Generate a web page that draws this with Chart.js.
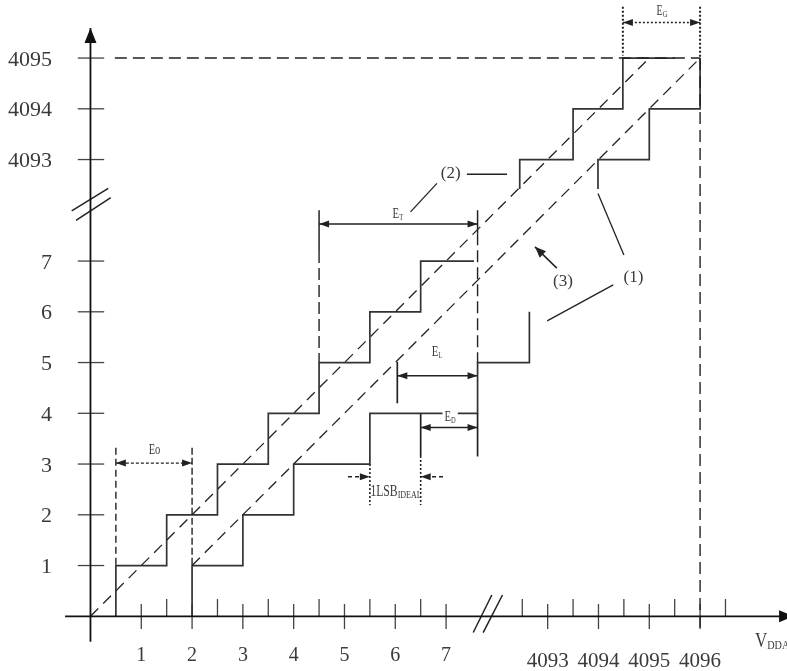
<!DOCTYPE html>
<html>
<head>
<meta charset="utf-8">
<script src="https://cdn.jsdelivr.net/npm/chart.js@4.4.1/dist/chart.umd.min.js"></script>
<style>
html, body { margin: 0; padding: 0; background: #fff; }
#wrap { width: 787px; height: 671px; }
</style>
</head>
<body>
<div id="wrap"><canvas id="adc" width="787" height="671"></canvas></div>
<script>
// plot units: 1 LSB across, 1 code up. the axis breaks fold 8..4092 into one gap,
// so 4093 sits at 9 and 4096 at 12 on both axes
const xTickPos = [1, 2, 3, 4, 5, 6, 7, 9, 10, 11, 12];
const xTickLabels = ['1', '2', '3', '4', '5', '6', '7', '4093', '4094', '4095', '4096'];
const xHalfTicks = [1.5, 2.5, 3.5, 4.5, 5.5, 6.5, 8.5, 9.5, 10.5, 11.5, 12.5];
const yTickPos = [1, 2, 3, 4, 5, 6, 7, 9, 10, 11];
const yTickLabels = ['1', '2', '3', '4', '5', '6', '7', '4093', '4094', '4095'];

// (2) curve with offset, low codes and top codes
const upperLow = [[0.5,0],[0.5,1],[1.5,1],[1.5,2],[2.5,2],[2.5,3],[3.5,3],[3.5,4],[4.5,4],[4.5,5],[5.5,5],[5.5,6],[6.5,6],[6.5,7],[7.55,7]];
const upperHigh = [[8.45,8.42],[8.45,9],[9.5,9],[9.5,10],[10.48,10],[10.48,11],[11.5,11]];
// (1) actual curve
const lowerLow = [[2,0],[2,1],[3,1],[3,2],[4,2],[4,3],[5.5,3],[5.5,4],[7.62,4],[7.62,5],[8.64,5],[8.64,6]];
const lowerHigh = [[9.99,8.42],[9.99,9],[11,9],[11,10],[12,10],[12,11]];
// dashed straight lines through the steps
const diagUpper = [[0,0],[11,11]];
const diagLower = [[2,1],[12,11]];
const fullScale = [[0.48,11],[12,11]];
const fullScaleV = [[12,11],[12,-0.22]];

const INK = '#222';
const TEXT = '#3a3a3a';
const FONT = '"Liberation Serif", "Times New Roman", serif';

// canvas is 787x671, origin at (90.5, 616.3), 50.8 px per LSB, 50.75 px per code
const X_MIN = -1.781, X_MAX = 13.711;
const Y_MIN = -1.078, Y_MAX = 12.144;

function line(pts, opts) {
    return Object.assign({
        data: pts.map(p => ({ x: p[0], y: p[1] })),
        showLine: true,
        pointRadius: 0,
        borderColor: INK,
        borderWidth: 1.6,
        fill: false,
        tension: 0
    }, opts || {});
}
const DASH = { borderDash: [12, 6], borderWidth: 1.4 };
const DOT = { borderDash: [2, 2], borderWidth: 1.6 };

let datasets = [
    // axes
    line([[0,-0.5],[0,11.59]], { borderWidth: 1.8, borderColor: '#111', head: 'end', headLen: 15, headW: 6 }),
    line([[-0.5,0],[13.85,0]], { borderWidth: 1.8, borderColor: '#111', head: 'end', headLen: 15, headW: 6 }),
    line([[-0.37,7.99],[0.35,8.43]], { borderWidth: 1.5 }),
    line([[-0.285,7.8],[0.4,8.25]], { borderWidth: 1.5 }),
    line([[7.535,-0.32],[7.9,0.42]], { borderWidth: 1.5 }),
    line([[7.73,-0.32],[8.11,0.42]], { borderWidth: 1.5 }),

    // staircases and dashed lines
    line(diagUpper, { borderDash: [11, 7], borderWidth: 1.3 }),
    line(diagLower, { borderDash: [11, 7], borderWidth: 1.3 }),
    line(fullScale, DASH),
    line(fullScaleV, DASH),
    line(upperLow, { borderWidth: 1.7, borderColor: '#333' }),
    line(upperHigh, { borderWidth: 1.7, borderColor: '#333' }),
    line(lowerLow, { borderWidth: 1.7, borderColor: '#333' }),
    line(lowerHigh, { borderWidth: 1.7, borderColor: '#333' }),

    // Eo
    line([[0.5,3.32],[0.5,1]], { borderDash: [7, 4], borderWidth: 1.4 }),
    line([[2,3.32],[2,1]], { borderDash: [7, 3], borderWidth: 1.4 }),
    line([[0.5,3.02],[2,3.02]], { borderDash: [3, 2], borderWidth: 1.3, head: 'both', headLen: 10, headW: 3.5 }),

    // ET
    line([[4.5,8.0],[4.5,7.2]], { borderWidth: 1.5 }),
    line([[4.5,7.2],[4.5,5]], { borderDash: [12, 5], borderWidth: 1.4 }),
    line([[7.62,8.0],[7.62,7.55]], { borderWidth: 1.5 }),
    line([[7.62,7.55],[7.62,5]], { borderDash: [12, 5], borderWidth: 1.4 }),
    line([[7.62,4],[7.62,3.15]], { borderWidth: 1.7 }),
    line([[4.5,7.73],[7.62,7.73]], { borderWidth: 1.3, head: 'both', headLen: 10, headW: 3.5 }),

    // EL
    line([[6.04,5.01],[6.04,4.2]], { borderWidth: 1.7 }),
    line([[6.04,4.74],[7.62,4.74]], { borderWidth: 1.3, head: 'both', headLen: 10, headW: 3.5 }),

    // ED
    line([[6.5,4],[6.5,3.16]], { borderWidth: 1.7 }),
    line([[6.5,3.72],[7.62,3.72]], { borderWidth: 1.3, head: 'both', headLen: 10, headW: 3.5 }),

    // 1LSB ideal
    line([[5.5,3],[5.5,2.19]], DOT),
    line([[6.5,3.16],[6.5,2.19]], DOT),
    line([[5.07,2.75],[5.5,2.75]], { borderDash: [4, 3], borderWidth: 1.3, head: 'end', headLen: 10, headW: 3.5 }),
    line([[6.94,2.75],[6.5,2.75]], { borderDash: [4, 3], borderWidth: 1.3, head: 'end', headLen: 10, headW: 3.5 }),

    // EG
    line([[10.48,12.01],[10.48,11.05]], { borderDash: [2, 2], borderWidth: 2 }),
    line([[12,12.01],[12,11]], { borderDash: [2, 2], borderWidth: 2 }),
    line([[10.48,11.7],[12,11.7]], Object.assign({ head: 'both', headLen: 10, headW: 3.5 }, DOT)),

    // leaders for (1) (2) (3)
    line([[7.41,8.71],[8.2,8.71]], { borderWidth: 1.3 }),
    line([[6.82,8.53],[6.3,7.97]], { borderWidth: 1.3 }),
    line([[9.18,6.86],[8.75,7.28]], { borderWidth: 1.5, head: 'end', headLen: 11, headW: 4.5 }),
    line([[10.5,7.12],[9.99,8.33]], { borderWidth: 1.3 }),
    line([[10.29,6.53],[8.99,5.82]], { borderWidth: 1.3 })
];

// tick marks: whole codes cross the axis, half steps stand above it
yTickPos.forEach(v => datasets.push(line([[-0.25,v],[0.27,v]], { borderWidth: 1.3, borderColor: '#444' })));
xTickPos.forEach(v => datasets.push(line([[v,0.24],[v,-0.25]], { borderWidth: 1.3, borderColor: '#444' })));
xHalfTicks.forEach(v => datasets.push(line([[v,0],[v,0.34]], { borderWidth: 1.3, borderColor: '#444' })));

const noteLabels = [
    { text: 'E', sub: 'G', x: 11.25, y: 11.85, size: 14, subSize: 9, sx: 0.72 },
    { text: 'Eo', x: 1.26, y: 3.2, size: 14, sx: 0.75 },
    { text: 'E', sub: 'T', x: 6.05, y: 7.85, size: 15, subSize: 9, sx: 0.72 },
    { text: 'E', sub: 'L', x: 6.82, y: 5.13, size: 15, subSize: 9, sx: 0.72 },
    { text: 'E', sub: 'D', x: 7.08, y: 3.85, size: 15, subSize: 9, sx: 0.72, bg: true },
    { text: '1LSB', sub: 'IDEAL', x: 5.51, y: 2.37, size: 16, subSize: 11, sx: 0.73, align: 'left' },
    { text: '(2)', x: 7.09, y: 8.64, size: 17 },
    { text: '(3)', x: 9.3, y: 6.51, size: 17 },
    { text: '(1)', x: 10.69, y: 6.59, size: 17 },
    { text: 'V', sub: 'DDA', x: 13.08, y: -0.605, size: 20, subSize: 12, sx: 0.85, align: 'left' }
];

function drawHead(ctx, from, to, len, w, color) {
    const a = Math.atan2(to.y - from.y, to.x - from.x);
    ctx.save();
    ctx.translate(to.x, to.y);
    ctx.rotate(a);
    ctx.beginPath();
    ctx.moveTo(0, 0);
    ctx.lineTo(-len, -w);
    ctx.lineTo(-len, w);
    ctx.closePath();
    ctx.fillStyle = color;
    ctx.fill();
    ctx.restore();
}

function drawLabel(ctx, px, py, o) {
    const sx = o.sx || 1;
    const mainFont = o.size + 'px ' + FONT;
    const subFont = (o.subSize || 10) + 'px ' + FONT;
    ctx.save();
    ctx.font = mainFont;
    const w1 = ctx.measureText(o.text).width;
    let w2 = 0;
    if (o.sub) {
        ctx.font = subFont;
        w2 = ctx.measureText(o.sub).width;
    }
    const total = (w1 + w2) * sx;
    let left = px - total / 2;
    if (o.align === 'left') left = px;
    if (o.align === 'right') left = px - total;
    if (o.bg) {
        ctx.fillStyle = '#fff';
        ctx.fillRect(left - 2, py - o.size * 0.72, total + 4, o.size * 0.85);
    }
    ctx.translate(left, py);
    ctx.scale(sx, 1);
    ctx.fillStyle = TEXT;
    ctx.textAlign = 'left';
    ctx.textBaseline = 'alphabetic';
    ctx.font = mainFont;
    ctx.fillText(o.text, 0, 0);
    if (o.sub) {
        ctx.font = subFont;
        ctx.fillText(o.sub, w1, 2);
    }
    ctx.restore();
}

const extras = {
    id: 'extras',
    afterDatasetsDraw(chart) {
        const ctx = chart.ctx;
        const sx = chart.scales.x, sy = chart.scales.y;

        // arrow heads on the line ends
        chart.data.datasets.forEach((ds, i) => {
            if (!ds.head) return;
            const pts = chart.getDatasetMeta(i).data;
            const n = pts.length;
            if (ds.head === 'end' || ds.head === 'both') drawHead(ctx, pts[n - 2], pts[n - 1], ds.headLen, ds.headW, ds.borderColor);
            if (ds.head === 'start' || ds.head === 'both') drawHead(ctx, pts[1], pts[0], ds.headLen, ds.headW, ds.borderColor);
        });

        // tick labels
        yTickLabels.forEach((t, i) => {
            drawLabel(ctx, sx.getPixelForValue(-0.758), sy.getPixelForValue(yTickPos[i]) + 7.5, { text: t, size: 22, align: 'right' });
        });
        xTickLabels.forEach((t, i) => {
            const big = t.length > 1;
            drawLabel(ctx, sx.getPixelForValue(xTickPos[i]), sy.getPixelForValue(big ? -0.99 : -0.89), { text: t, size: big ? 21 : 20 });
        });

        noteLabels.forEach(o => drawLabel(ctx, sx.getPixelForValue(o.x), sy.getPixelForValue(o.y), o));
    }
};

new Chart(document.getElementById('adc'), {
    type: 'scatter',
    data: { datasets: datasets },
    options: {
        responsive: false,
        animation: false,
        events: [],
        layout: { padding: 0 },
        plugins: { legend: { display: false }, tooltip: { enabled: false } },
        scales: {
            x: { type: 'linear', display: false, min: X_MIN, max: X_MAX },
            y: { type: 'linear', display: false, min: Y_MIN, max: Y_MAX }
        }
    },
    plugins: [extras]
});
</script>
</body>
</html>
